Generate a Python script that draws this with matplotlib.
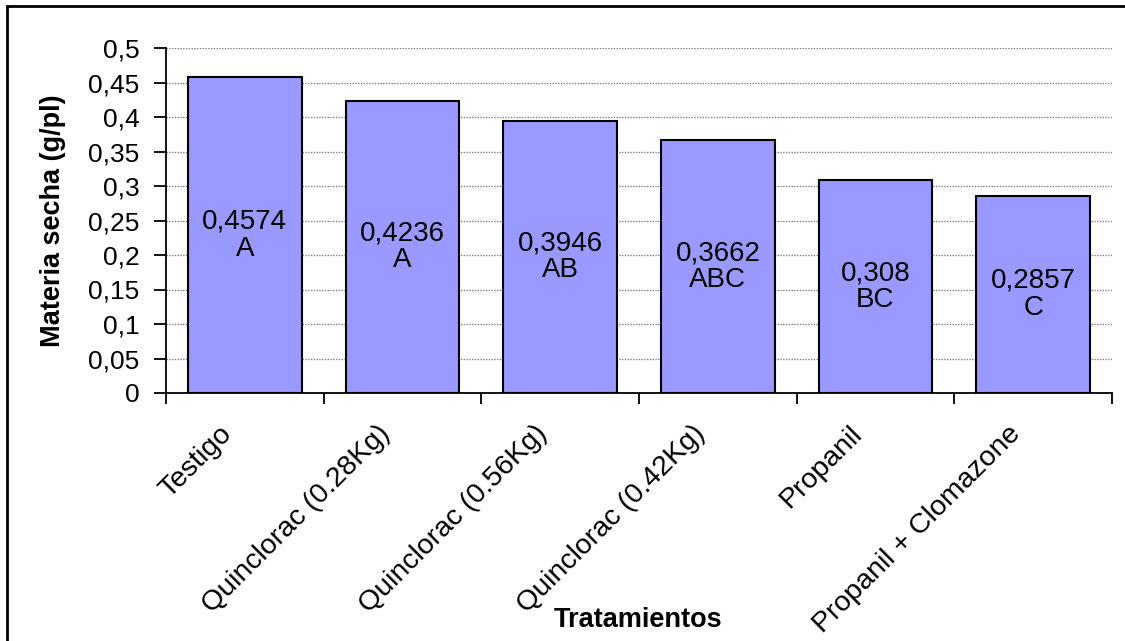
import numpy as np
import matplotlib.pyplot as plt
from matplotlib.patches import Rectangle

plt.rcParams['font.family'] = ['Liberation Sans', 'DejaVu Sans']

# materia seca por tratamiento (g/pl) y letras de la prueba de medias
tratamientos = ['Testigo', 'Quinclorac (0.28Kg)', 'Quinclorac (0.56Kg)',
                'Quinclorac (0.42Kg)', 'Propanil', 'Propanil + Clomazone']
materia_seca = [0.4574, 0.4236, 0.3946, 0.3662, 0.308, 0.2857]
etiquetas = ['0,4574', '0,4236', '0,3946', '0,3662', '0,308', '0,2857']
letras = ['A', 'A', 'AB', 'ABC', 'BC', 'C']
y_ticks = [0, 0.05, 0.1, 0.15, 0.2, 0.25, 0.3, 0.35, 0.4, 0.45, 0.5]
y_ticklabels = ['0', '0,05', '0,1', '0,15', '0,2', '0,25', '0,3', '0,35', '0,4', '0,45', '0,5']

fig = plt.figure(figsize=(11.25, 6.41), dpi=100)
ax = fig.add_axes([166 / 1125, 1 - 393 / 641, (1112 - 166) / 1125, (393 - 48) / 641])

x = np.arange(len(tratamientos))
ax.bar(x, materia_seca, width=0.72, color='#9999ff', edgecolor='black', linewidth=1.5, zorder=3)

for xi, v, txt, l in zip(x, materia_seca, etiquetas, letras):
    ax.text(xi, v / 2, txt + '\n' + l, ha='center', va='center', fontsize=20,
            linespacing=1.05, zorder=4)

ax.set_xlim(-0.5, len(tratamientos) - 0.5)
ax.set_ylim(0, 0.5)
ax.set_yticks(y_ticks)
ax.set_yticklabels(y_ticklabels, fontsize=19)
ax.yaxis.grid(True, color='#808080', linestyle=(0, (1, 1)), linewidth=1, zorder=0)

# marcas del eje x entre categorias
ax.set_xticks(np.arange(-0.5, len(tratamientos), 1))
ax.set_xticklabels([])
ax.tick_params(axis='x', direction='out', length=8, width=1.3)
ax.tick_params(axis='y', direction='out', length=9, width=1.3, pad=10)

for side in ['top', 'right']:
    ax.spines[side].set_visible(False)
for side in ['left', 'bottom']:
    ax.spines[side].set_linewidth(1.3)

# nombres de tratamientos inclinados
trans = ax.get_xaxis_transform()
for xi, t in zip(x, tratamientos):
    ax.text(xi - 0.165, -0.08, t, transform=trans, rotation=45, ha='right', va='top',
            rotation_mode='anchor', fontsize=20.5)

ax.set_ylabel('Materia secha (g/pl)', fontsize=19.5, fontweight='bold', labelpad=16)
fig.text(638 / 1125, 1 - 620 / 641, 'Tratamientos', ha='center', va='center',
         fontsize=19.5, fontweight='bold')

# borde exterior del area del grafico
fig.patches.append(Rectangle((7 / 1125, -0.1), 1.2, 1 - 6 / 641 + 0.1,
                             transform=fig.transFigure, fill=False,
                             edgecolor='black', linewidth=2))

fig.savefig('out.png', dpi=100)
